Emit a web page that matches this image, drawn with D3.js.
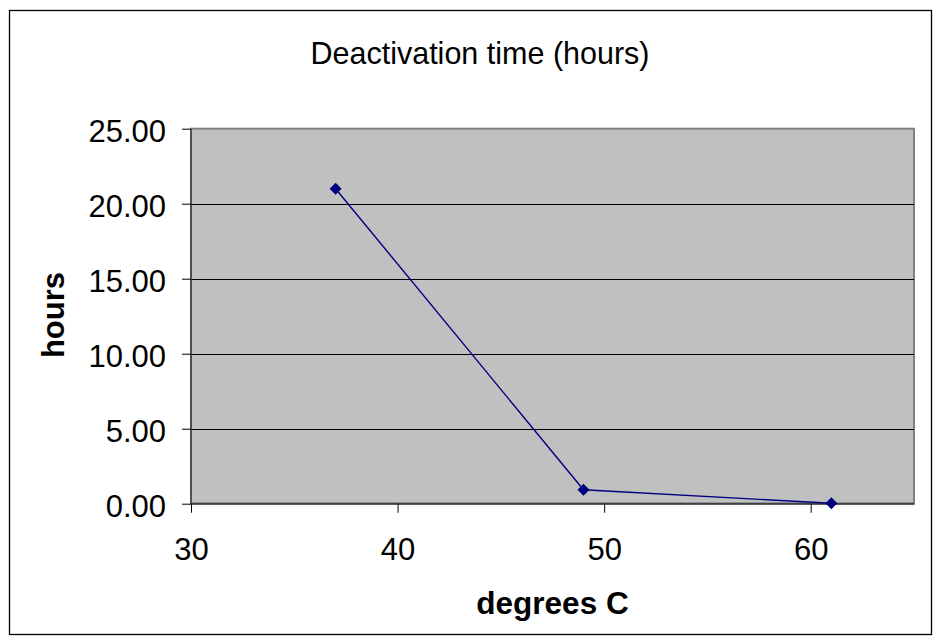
<!DOCTYPE html>
<html><head><meta charset="utf-8">
<script src="https://cdn.jsdelivr.net/npm/d3@7"></script>
<style>html,body{margin:0;padding:0;background:#fff;}svg{display:block;}</style>
</head><body>
<svg id="c" width="938" height="641"></svg>
<script>
const title = "Deactivation time (hours)";
const xLabel = "degrees C";
const yLabel = "hours";
const temps = [37, 49, 61];
const hours = [21.0, 0.93, 0.03];
const xTicks = [30, 40, 50, 60];
const yTicks = [0, 5, 10, 15, 20, 25];

const svg = d3.select("#c");
const F = "Liberation Sans, Arial, sans-serif";
const L = 191, R = 914, T = 128.7, B = 503.7;
const x = d3.scaleLinear().domain([30, 65]).range([L, R]);
const y = d3.scaleLinear().domain([0, 25]).range([B, T]);

svg.append("rect").attr("x", 9.5).attr("y", 10.5).attr("width", 922).attr("height", 624)
  .attr("fill", "#fff").attr("stroke", "#000").attr("stroke-width", 1.3);

svg.append("rect").attr("x", L).attr("y", T).attr("width", R - L).attr("height", B - T)
  .attr("fill", "#c0c0c0").attr("stroke", "#808080").attr("stroke-width", 2);

// gridlines
svg.append("g").selectAll("line").data(yTicks.filter(d => d > 0 && d < 25)).join("line")
  .attr("x1", L).attr("x2", R).attr("y1", d => Math.round(y(d)) + 0.5).attr("y2", d => Math.round(y(d)) + 0.5)
  .attr("stroke", "#000").attr("stroke-width", 1);

// y axis
const ya = svg.append("g").attr("transform", `translate(${L},0)`)
  .call(d3.axisLeft(y).tickValues(yTicks).tickFormat(d3.format(".2f")).tickSize(9).tickPadding(16));
ya.select(".domain").attr("stroke", "#404040").attr("stroke-width", 1.5).attr("d", `M0,${T}V${B}`);
ya.selectAll(".tick line").attr("stroke", "#000");
ya.selectAll(".tick text").attr("font-family", F).attr("font-size", 31).attr("fill", "#000").attr("dy", "0.42em");

// x axis
const xa = svg.append("g").attr("transform", `translate(0,${B})`)
  .call(d3.axisBottom(x).tickValues(xTicks).tickFormat(d3.format("d")).tickSize(9).tickPadding(25));
xa.select(".domain").attr("stroke", "#404040").attr("stroke-width", 2).attr("d", `M${L},0H${R}`);
xa.selectAll(".tick line").attr("stroke", "#000");
xa.selectAll(".tick text").attr("font-family", F).attr("font-size", 31).attr("fill", "#000");

// line
const pts = temps.map((t, i) => [t, hours[i]]);
svg.append("path").datum(pts)
  .attr("d", d3.line().x(d => x(d[0])).y(d => y(d[1])))
  .attr("fill", "none").attr("stroke", "#000080").attr("stroke-width", 1.4);
svg.append("g").selectAll("path").data(pts).join("path")
  .attr("transform", d => `translate(${x(d[0])},${y(d[1])})`)
  .attr("d", "M0,-6L6,0L0,6L-6,0Z").attr("fill", "#000080");

svg.append("text").attr("x", 480).attr("y", 64).attr("text-anchor", "middle")
  .attr("font-family", F).attr("font-size", 30.5).text(title);
svg.append("text").attr("x", 552.5).attr("y", 614).attr("text-anchor", "middle")
  .attr("font-family", F).attr("font-size", 31.5).attr("font-weight", "bold").text(xLabel);
svg.append("text").attr("transform", "translate(64,315) rotate(-90)").attr("text-anchor", "middle")
  .attr("font-family", F).attr("font-size", 31).attr("font-weight", "bold").text(yLabel);
</script>
</body></html>
